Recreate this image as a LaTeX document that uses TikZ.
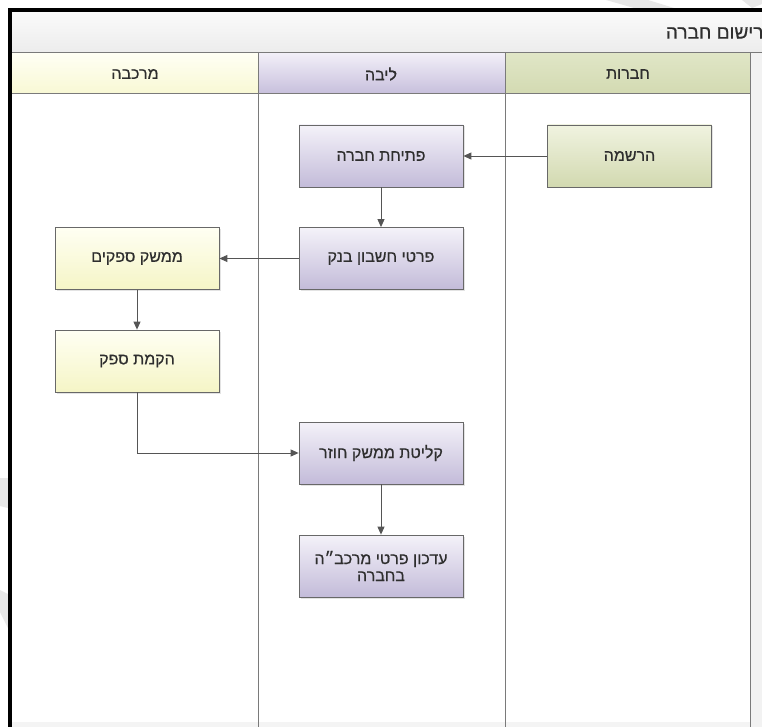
\documentclass[tikz,border=0pt]{standalone}
\usepackage{fontspec}
\setmainfont{Liberation Sans}
\newfontfamily\hebfont[Script=Hebrew,FakeBold=0.6]{Liberation Sans}
\TeXXeTstate=1
\usetikzlibrary{arrows.meta,shadows}
\newcommand\hebtxt[1]{{\hebfont\beginR #1\endR}}
\definecolor{txtC}{HTML}{2E2E2E}
\definecolor{lineC}{HTML}{555555}
\definecolor{laneC}{HTML}{7A7A7A}
\definecolor{boxC}{HTML}{686868}
\definecolor{wmC}{HTML}{E8E8E8}
\definecolor{stripC}{HTML}{F2F2F2}
\definecolor{botC}{HTML}{F4F4F4}
\definecolor{titleTop}{HTML}{FAFAFA}
\definecolor{titleBot}{HTML}{ECECEC}
\definecolor{yHTop}{HTML}{FFFFF4}
\definecolor{yHBot}{HTML}{F8F8D4}
\definecolor{pHTop}{HTML}{F2EFF8}
\definecolor{pHBot}{HTML}{C7BFDC}
\definecolor{gHTop}{HTML}{E0E6C6}
\definecolor{gHBot}{HTML}{D3DAB2}
\definecolor{yTop}{HTML}{FFFFF3}
\definecolor{yBot}{HTML}{F5F5C6}
\definecolor{pTop}{HTML}{F4F2F9}
\definecolor{pBot}{HTML}{C3BBD9}
\definecolor{gTop}{HTML}{F0F3E0}
\definecolor{gBot}{HTML}{D2D9B0}
\tikzset{
  txtfont/.style={font=\fontsize{16}{19}\selectfont, text=txtC},
  titlefont/.style={font=\fontsize{19}{22}\selectfont, text=txtC},
  box/.style={draw=boxC, line width=0.8pt, minimum width=164pt, minimum height=62pt,
    txtfont, align=center,
    drop shadow={opacity=0.22, shadow xshift=1.5pt, shadow yshift=-1.5pt}},
  ybox/.style={box, top color=yTop, bottom color=yBot},
  pbox/.style={box, top color=pTop, bottom color=pBot},
  gbox/.style={box, top color=gTop, bottom color=gBot},
  conn/.style={draw=lineC, line width=0.9pt, -{Triangle[length=8pt,width=7pt]}},
  lane/.style={draw=laneC, line width=1pt}
}
\begin{document}
\begin{tikzpicture}[x=1pt,y=-1pt]
\useasboundingbox (0,0) rectangle (762,727);
\fill[white] (0,0) rectangle (762,727);
% watermark shapes
\fill[wmC] (606,0) -- (648,0) -- (674,8) -- (634,8) -- cycle;
\fill[wmC] (742,0) -- (762,0) -- (762,4) -- (752,8) -- cycle;
\fill[wmC] (0,478) -- (8,478) -- (8,508) -- (0,506) -- cycle;
\fill[wmC] (0,590) -- (8,594) -- (8,628) -- (0,612) -- cycle;
% title bar
\shade[top color=titleTop, bottom color=titleBot] (12,12) rectangle (762,53);
\node[titlefont, anchor=east] (title) at (767,33) {\hebtxt{רישום חברה}};
% headers
\shade[top color=yHTop, bottom color=yHBot] (12,53) rectangle (258,94);
\shade[top color=pHTop, bottom color=pHBot] (258,53) rectangle (505,94);
\shade[top color=gHTop, bottom color=gHBot] (505,53) rectangle (750,94);
\fill[stripC] (750,53) rectangle (762,727);
\node[txtfont] (h1) at (135,74) {\hebtxt{מרכבה}};
\node[txtfont] (h2) at (381,74) {\hebtxt{ליבה}};
\node[txtfont] (h3) at (628,74) {\hebtxt{חברות}};
\fill[botC] (12,722) rectangle (750,727);
% lane lines
\draw[lane] (12,53) -- (762,53);
\draw[lane] (12,94) -- (750,94);
\draw[lane] (258,53) -- (258,727);
\draw[lane] (505,53) -- (505,727);
\draw[lane] (750,53) -- (750,727);
% black border
\fill[black] (8,8) rectangle (762,12);
\fill[black] (8,8) rectangle (12,727);
% nodes
\node[gbox] (reg) at (629.5,156) {\hebtxt{הרשמה}};
\node[pbox] (open) at (381,156) {\hebtxt{פתיחת חברה}};
\node[pbox] (bank) at (381,258.5) {\hebtxt{פרטי חשבון בנק}};
\node[ybox] (iface) at (137,258.5) {\hebtxt{ממשק ספקים}};
\node[ybox] (setup) at (137,361) {\hebtxt{הקמת ספק}};
\node[pbox] (recv) at (381,453) {\hebtxt{קליטת ממשק חוזר}};
\node[pbox] (upd) at (381,566) {\hebtxt{עדכון פרטי מרכב״ה}\\[-2pt]\hebtxt{בחברה}};
% connectors
\draw[conn] (reg.west) -- (open.east);
\draw[conn] (open.south) -- (bank.north);
\draw[conn] (bank.west) -- (iface.east);
\draw[conn] (iface.south) -- (setup.north);
\draw[conn] (setup.south) |- (recv.west);
\draw[conn] (recv.south) -- (upd.north);
\end{tikzpicture}
\end{document}
